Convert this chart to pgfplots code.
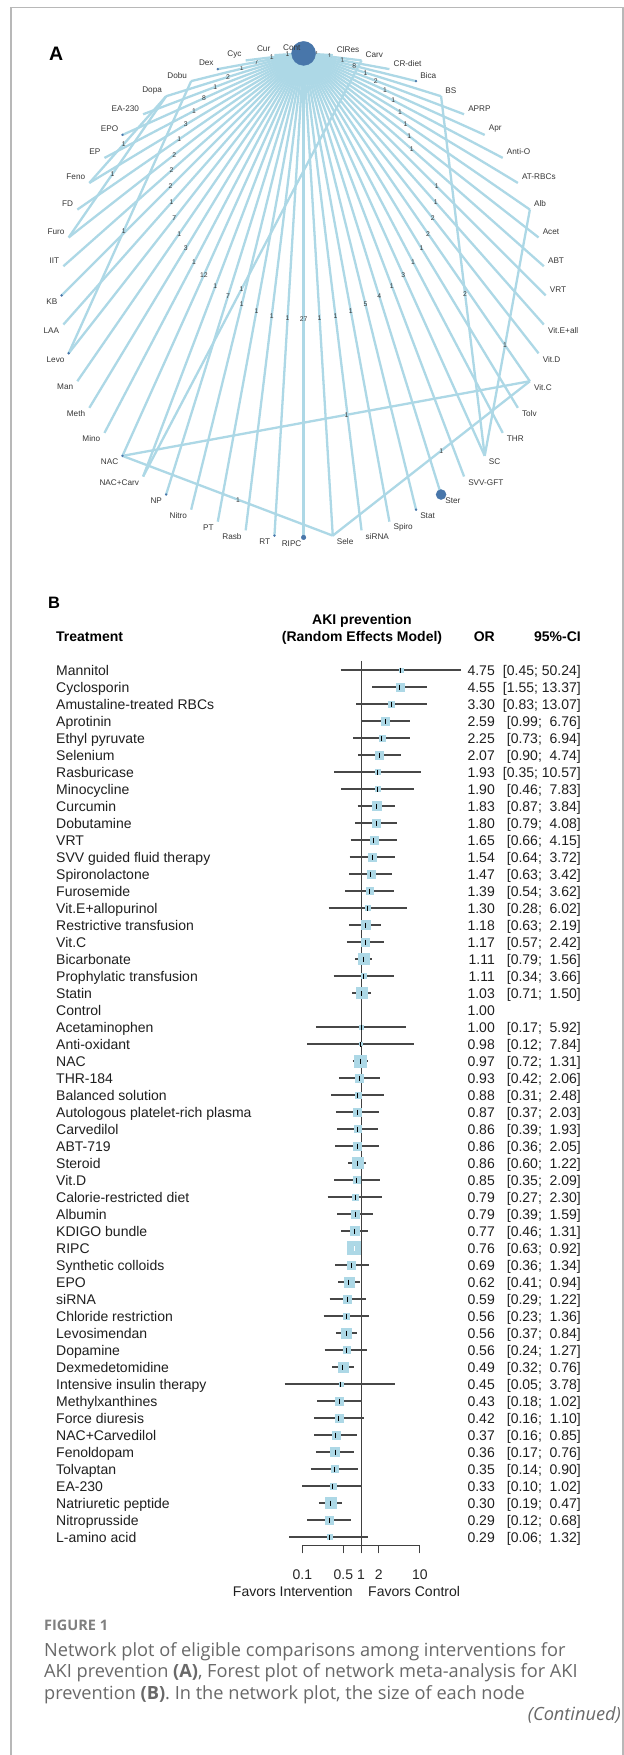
\documentclass[border=0pt]{standalone}
\usepackage{fontspec}
\setmainfont{Liberation Sans}
\newfontfamily\capfont{Open Sans}
\usepackage{pgfplots}
\usepackage{pgfplotstable}
\pgfplotsset{compat=1.18}
\definecolor{edgec}{RGB}{173,216,230}
\definecolor{nodec}{RGB}{72,118,170}
\definecolor{sqc}{RGB}{173,216,230}
\definecolor{capgray}{RGB}{105,105,105}
\definecolor{labc}{RGB}{55,55,55}
\newcommand\fs{\fontsize{14bp}{16bp}\selectfont}

\pgfplotstableread{
k or lo hi sq
1 4.75 0.45 50.24 4
2 4.55 1.55 13.37 8
3 3.30 0.83 13.07 6
4 2.59 0.99 6.76 8
5 2.25 0.73 6.94 6
6 2.07 0.90 4.74 8
7 1.93 0.35 10.57 5
8 1.90 0.46 7.83 5
9 1.83 0.87 3.84 9
10 1.80 0.79 4.08 8
11 1.65 0.66 4.15 8
12 1.54 0.64 3.72 8
13 1.47 0.63 3.42 8
14 1.39 0.54 3.62 7
15 1.30 0.28 6.02 5
16 1.18 0.63 2.19 9
17 1.17 0.57 2.42 8
18 1.11 0.79 1.56 11
19 1.11 0.34 3.66 5
20 1.03 0.71 1.50 11
22 1.00 0.17 5.92 4
23 0.98 0.12 7.84 3
24 0.97 0.72 1.31 12
25 0.93 0.42 2.06 8
26 0.88 0.31 2.48 6
27 0.87 0.37 2.03 8
28 0.86 0.39 1.93 7
29 0.86 0.36 2.05 8
30 0.86 0.60 1.22 11
31 0.85 0.35 2.09 7
32 0.79 0.27 2.30 6
33 0.79 0.39 1.59 8
34 0.77 0.46 1.31 9
35 0.76 0.63 0.92 13
36 0.69 0.36 1.34 8
37 0.62 0.41 0.94 10
38 0.59 0.29 1.22 8
39 0.56 0.23 1.36 6
40 0.56 0.37 0.84 10
41 0.56 0.24 1.27 7
42 0.49 0.32 0.76 10
43 0.45 0.05 3.78 4
44 0.43 0.18 1.02 8
45 0.42 0.16 1.10 8
46 0.37 0.16 0.85 8
47 0.36 0.17 0.76 9
48 0.35 0.14 0.90 7
49 0.33 0.10 1.02 6
50 0.30 0.19 0.47 11
51 0.29 0.12 0.68 8
52 0.29 0.06 1.32 5
}\foresttab

\pgfplotsset{
  edge/.style={data cs=polar, color=edgec, line width=2.3bp, mark=none},
  cil/.style={color=black!72, line width=1.25bp, mark=none},
}
\tikzset{elab/.style={font=\fontsize{6.8bp}{6.8bp}\selectfont, text=labc, inner sep=0pt}}
\newcommand\edge[4]{\addplot[edge] coordinates {(#1,1) (#2,1)} node[elab,pos=#4] {#3};}
\newcommand\ci[3]{\addplot[cil] coordinates {(#2,-#1) (#3,-#1)};}

\begin{document}
\begin{tikzpicture}
\useasboundingbox (0bp,0bp) rectangle (624bp,-1755bp);
\fill[white] (0bp,0bp) rectangle (624bp,-1755bp);
\draw[black!28, line width=1.5bp] (11bp,-1770bp) -- (11bp,-7.5bp) -- (623bp,-7.5bp) -- (623bp,-1770bp);

% ---------------- Panel A: network ----------------
\begin{axis}[at={(303.6bp,-295.4bp)}, anchor=center, scale only axis,
  width=605bp, height=605bp, xmin=-1.25, xmax=1.25, ymin=-1.25, ymax=1.25,
  hide axis, clip=false]
% edges to Cont
\edge{90}{83.08}{1}{0.45}
\edge{90}{76.15}{1}{0.45}
\edge{90}{69.23}{1}{0.45}
\edge{90}{62.31}{8}{0.45}
\edge{90}{55.38}{1}{0.45}
\edge{90}{48.46}{2}{0.45}
\edge{90}{41.54}{1}{0.45}
\edge{90}{34.62}{1}{0.45}
\edge{90}{27.69}{1}{0.45}
\edge{90}{20.77}{1}{0.45}
\edge{90}{13.85}{1}{0.45}
\edge{90}{6.92}{1}{0.45}
\edge{90}{0}{1}{0.55}
\edge{90}{-6.92}{1}{0.55}
\edge{90}{-13.85}{2}{0.55}
\edge{90}{-20.77}{2}{0.55}
\edge{90}{-27.69}{1}{0.55}
\edge{90}{-34.62}{1}{0.55}
\edge{90}{-41.54}{3}{0.55}
\edge{90}{-48.46}{1}{0.55}
\edge{90}{-55.38}{4}{0.55}
\edge{90}{-62.31}{5}{0.55}
\edge{90}{-69.23}{1}{0.55}
\edge{90}{-76.15}{1}{0.55}
\edge{90}{-83.08}{1}{0.55}
\edge{90}{-90}{27}{0.55}
\edge{90}{263.08}{1}{0.55}
\edge{90}{256.15}{1}{0.55}
\edge{90}{249.23}{1}{0.55}
\edge{90}{242.31}{1}{0.55}
\edge{90}{235.38}{7}{0.55}
\edge{90}{228.46}{1}{0.55}
\edge{90}{221.54}{12}{0.55}
\edge{90}{214.62}{1}{0.55}
\edge{90}{207.69}{3}{0.55}
\edge{90}{200.77}{1}{0.55}
\edge{90}{193.85}{7}{0.55}
\edge{90}{186.92}{1}{0.55}
\edge{90}{180}{2}{0.55}
\edge{90}{173.08}{2}{0.55}
\edge{90}{166.15}{2}{0.55}
\edge{90}{159.23}{1}{0.55}
\edge{90}{152.31}{3}{0.55}
\edge{90}{145.38}{1}{0.55}
\edge{90}{138.46}{8}{0.55}
\edge{90}{131.54}{1}{0.55}
\edge{90}{124.62}{2}{0.55}
\edge{90}{117.69}{1}{0.55}
\edge{90}{110.77}{7}{0.55}
\edge{90}{103.85}{1}{0.55}
\edge{90}{96.92}{1}{0.55}
% other comparisons
\edge{117.69}{193.85}{1}{0.55}
\edge{124.62}{152.31}{1}{0.55}
\edge{124.62}{166.15}{1}{0.55}
\edge{55.38}{-41.54}{2}{0.55}
\edge{20.77}{-41.54}{1}{0.55}
\edge{221.54}{-20.77}{1}{0.55}
\edge{221.54}{-83.08}{1}{0.55}
\edge{-83.08}{-20.77}{1}{0.55}
\edge{76.15}{228.46}{1}{0.55}
% nodes
\addplot[data cs=polar, only marks, mark=*, mark size=1bp, color=nodec]
  coordinates {(110.77,1) (62.31,1) (138.46,1) (180,1) (193.85,1) (221.54,1) (235.38,1) (263.08,1) (-62.31,1)};
\addplot[data cs=polar, only marks, mark=*, mark size=2.3bp, color=nodec] coordinates {(-90,1)};
\addplot[data cs=polar, only marks, mark=*, mark size=5bp, color=nodec] coordinates {(-55.38,1)};
\addplot[data cs=polar, only marks, mark=*, mark size=12bp, color=nodec] coordinates {(90,1)};
\end{axis}

% node labels (text)
\begin{scope}[shift={(303.6bp,-295.4bp)}, every node/.style={font=\fontsize{8.2bp}{8.2bp}\selectfont, text=labc, inner sep=0pt}]
\foreach \a/\l/\an/\xs/\ys in {
90/Cont/east/-3/6, 83.08/ClRes/west/4/6, 76.15/Carv/west/4/6, 69.23/CR-diet/west/4/6,
62.31/Bica/west/4/6, 55.38/BS/west/4/6, 48.46/APRP/west/4/6, 41.54/Apr/west/4/6,
34.62/Anti-O/west/4/6, 27.69/AT-RBCs/west/4/6, 20.77/Alb/west/4/6, 13.85/Acet/west/4/6,
6.92/ABT/west/4/6, 0/VRT/west/4/6, -6.92/Vit.E+all/west/4/-6, -13.85/Vit.D/west/4/-6,
-20.77/Vit.C/west/4/-6, -27.69/Tolv/west/4/-6, -34.62/THR/west/4/-6, -41.54/SC/west/4/-6,
-48.46/SVV-GFT/west/4/-6, -55.38/Ster/west/4/-6, -62.31/Stat/west/4/-6, -69.23/Spiro/west/4/-6,
-76.15/siRNA/west/4/-6, -83.08/Sele/west/4/-6, -90/RIPC/east/-2/-6,
263.08/RT/east/-4/-6, 256.15/Rasb/east/-4/-6, 249.23/PT/east/-4/-6, 242.31/Nitro/east/-4/-6,
235.38/NP/east/-4/-6, 228.46/NAC+Carv/east/-4/-6, 221.54/NAC/east/-4/-6, 214.62/Mino/east/-4/-6,
207.69/Meth/east/-4/-6, 200.77/Man/east/-4/-6, 193.85/Levo/east/-4/-6, 186.92/LAA/east/-4/-6,
180/KB/east/-4/-6, 173.08/IIT/east/-4/6, 166.15/Furo/east/-4/6, 159.23/FD/east/-4/6,
152.31/Feno/east/-4/6, 145.38/EP/east/-4/6, 138.46/EPO/east/-4/6, 131.54/EA-230/east/-4/6,
124.62/Dopa/east/-4/6, 117.69/Dobu/east/-4/6, 110.77/Dex/east/-4/6, 103.85/Cyc/east/-4/6,
96.92/Cur/east/-4/6}{
  \node[anchor=\an, xshift=\xs bp, yshift=\ys bp] at (\a:242bp) {\l};
}
\end{scope}

% ---------------- Panel B: forest ----------------
\begin{axis}[at={(302.4bp,-653bp)}, anchor=north west, scale only axis,
  width=117.4bp, height=892.7bp, xmode=log, log basis x=10,
  xmin=0.1, xmax=10, ymin=-52.51, ymax=0, clip=false,
  axis y line=none, axis x line*=bottom,
  x axis line style={-, black!75, line width=0.9bp},
  xtick={0.1,0.5,1,2,10}, xticklabels={0.1,0.5,1,2,10},
  minor xtick={}, xtick align=outside, major tick length=7.6bp,
  tick style={black!75, line width=0.9bp},
  xticklabel style={font=\fs, text=black!85, yshift=-13bp}]
\addplot[black!75, line width=0.9bp] coordinates {(1,-0.47) (1,-52.51)};
\addplot[only marks, mark=square*, scatter,
  scatter/use mapped color={draw=sqc, fill=sqc},
  visualization depends on={\thisrow{sq}/2 \as \msz},
  scatter/@pre marker code/.append style={/tikz/mark size=\msz}]
  table[x=or, y expr=-\thisrow{k}] {\foresttab};
\ci{1}{0.45}{50.24}
\ci{2}{1.55}{13.37}
\ci{3}{0.83}{13.07}
\ci{4}{0.99}{6.76}
\ci{5}{0.73}{6.94}
\ci{6}{0.90}{4.74}
\ci{7}{0.35}{10.57}
\ci{8}{0.46}{7.83}
\ci{9}{0.87}{3.84}
\ci{10}{0.79}{4.08}
\ci{11}{0.66}{4.15}
\ci{12}{0.64}{3.72}
\ci{13}{0.63}{3.42}
\ci{14}{0.54}{3.62}
\ci{15}{0.28}{6.02}
\ci{16}{0.63}{2.19}
\ci{17}{0.57}{2.42}
\ci{18}{0.79}{1.56}
\ci{19}{0.34}{3.66}
\ci{20}{0.71}{1.50}
\ci{22}{0.17}{5.92}
\ci{23}{0.12}{7.84}
\ci{24}{0.72}{1.31}
\ci{25}{0.42}{2.06}
\ci{26}{0.31}{2.48}
\ci{27}{0.37}{2.03}
\ci{28}{0.39}{1.93}
\ci{29}{0.36}{2.05}
\ci{30}{0.60}{1.22}
\ci{31}{0.35}{2.09}
\ci{32}{0.27}{2.30}
\ci{33}{0.39}{1.59}
\ci{34}{0.46}{1.31}
\addplot[color=white, line width=1.2bp] coordinates {(0.63,-35) (0.92,-35)};
\ci{36}{0.36}{1.34}
\ci{37}{0.41}{0.94}
\ci{38}{0.29}{1.22}
\ci{39}{0.23}{1.36}
\ci{40}{0.37}{0.84}
\ci{41}{0.24}{1.27}
\ci{42}{0.32}{0.76}
\ci{43}{0.05}{3.78}
\ci{44}{0.18}{1.02}
\ci{45}{0.16}{1.10}
\ci{46}{0.16}{0.85}
\ci{47}{0.17}{0.76}
\ci{48}{0.14}{0.90}
\ci{49}{0.10}{1.02}
\ci{50}{0.19}{0.47}
\ci{51}{0.12}{0.68}
\ci{52}{0.06}{1.32}
\addplot[only marks, mark=|, mark size=2.5bp, mark options={line width=1bp}, color=black]
  table[x=or, y expr=-\thisrow{k}] {\foresttab};
\addplot[only marks, mark=|, mark size=2.5bp, mark options={line width=1bp}, color=white]
  coordinates {(0.76,-35)};
\end{axis}

% ---------------- Text ----------------
\begin{scope}[x=1bp, y=-1bp]
\node[anchor=base west, inner sep=0pt, font=\bfseries\fontsize{19.5bp}{20bp}\selectfont] at (49,60) {A};
\node[anchor=base west, inner sep=0pt, font=\bfseries\fontsize{16.5bp}{17bp}\selectfont] at (48,608) {B};
\begin{scope}[every node/.style={inner sep=0pt, font=\fs\bfseries}]
\node[anchor=base] at (362,624) {AKI prevention};
\node[anchor=base] at (362,641) {(Random Effects Model)};
\node[anchor=base west] at (56,641) {Treatment};
\node[anchor=base east] at (495,641) {OR};
\node[anchor=base east] at (581,641) {95\%-CI};
\end{scope}
\begin{scope}[every node/.style={inner sep=0pt, font=\fs, text=black!88}]
\foreach \k/\nm/\orv/\lo/\hi in {
1/Mannitol/4.75/0.45/50.24,
2/Cyclosporin/4.55/1.55/13.37,
3/Amustaline-treated RBCs/3.30/0.83/13.07,
4/Aprotinin/2.59/0.99/6.76,
5/Ethyl pyruvate/2.25/0.73/6.94,
6/Selenium/2.07/0.90/4.74,
7/Rasburicase/1.93/0.35/10.57,
8/Minocycline/1.90/0.46/7.83,
9/Curcumin/1.83/0.87/3.84,
10/Dobutamine/1.80/0.79/4.08,
11/VRT/1.65/0.66/4.15,
12/SVV guided fluid therapy/1.54/0.64/3.72,
13/Spironolactone/1.47/0.63/3.42,
14/Furosemide/1.39/0.54/3.62,
15/Vit.E+allopurinol/1.30/0.28/6.02,
16/Restrictive transfusion/1.18/0.63/2.19,
17/Vit.C/1.17/0.57/2.42,
18/Bicarbonate/1.11/0.79/1.56,
19/Prophylatic transfusion/1.11/0.34/3.66,
20/Statin/1.03/0.71/1.50,
22/Acetaminophen/1.00/0.17/5.92,
23/Anti-oxidant/0.98/0.12/7.84,
24/NAC/0.97/0.72/1.31,
25/THR-184/0.93/0.42/2.06,
26/Balanced solution/0.88/0.31/2.48,
27/Autologous platelet-rich plasma/0.87/0.37/2.03,
28/Carvedilol/0.86/0.39/1.93,
29/ABT-719/0.86/0.36/2.05,
30/Steroid/0.86/0.60/1.22,
31/Vit.D/0.85/0.35/2.09,
32/Calorie-restricted diet/0.79/0.27/2.30,
33/Albumin/0.79/0.39/1.59,
34/KDIGO bundle/0.77/0.46/1.31,
35/RIPC/0.76/0.63/0.92,
36/Synthetic colloids/0.69/0.36/1.34,
37/EPO/0.62/0.41/0.94,
38/siRNA/0.59/0.29/1.22,
39/Chloride restriction/0.56/0.23/1.36,
40/Levosimendan/0.56/0.37/0.84,
41/Dopamine/0.56/0.24/1.27,
42/Dexmedetomidine/0.49/0.32/0.76,
43/Intensive insulin therapy/0.45/0.05/3.78,
44/Methylxanthines/0.43/0.18/1.02,
45/Force diuresis/0.42/0.16/1.10,
46/NAC+Carvedilol/0.37/0.16/0.85,
47/Fenoldopam/0.36/0.17/0.76,
48/Tolvaptan/0.35/0.14/0.90,
49/EA-230/0.33/0.10/1.02,
50/Natriuretic peptide/0.30/0.19/0.47,
51/Nitroprusside/0.29/0.12/0.68,
52/L-amino acid/0.29/0.06/1.32}{
  \pgfmathsetmacro\yy{670+17*(\k-1)+5}
  \pgfmathsetmacro\cx{\hi<10 ? 542.1 : 538.2}
  \node[anchor=base west] at (56,\yy) {\nm};
  \node[anchor=base east] at (495,\yy) {\orv};
  \node[anchor=base east] at (\cx,\yy) {[\lo;};
  \node[anchor=base east] at (581,\yy) {\hi]};
}
\node[anchor=base west] at (56,1015) {Control};
\node[anchor=base east] at (495,1015) {1.00};
\node[anchor=base east] at (353,1596) {Favors Intervention};
\node[anchor=base west] at (368,1596) {Favors Control};
\end{scope}
% caption
\begin{scope}[every node/.style={inner sep=0pt, text=capgray}]
\node[anchor=base west, font=\capfont\bfseries\fontsize{14.5bp}{15bp}\selectfont, text=black!50] at (44,1630.5) {FIGURE 1};
\node[anchor=base west, font=\capfont\fontsize{18.2bp}{20bp}\selectfont] at (44,1656) {Network plot of eligible comparisons among interventions for};
\node[anchor=base west, font=\capfont\fontsize{18.2bp}{20bp}\selectfont] at (44,1677.5) {AKI prevention \textbf{(A)}, Forest plot of network meta-analysis for AKI};
\node[anchor=base west, font=\capfont\fontsize{18.2bp}{20bp}\selectfont] at (44,1699) {prevention \textbf{(B)}. In the network plot, the size of each node};
\node[anchor=base east, font=\capfont\itshape\fontsize{18.2bp}{20bp}\selectfont] at (621,1720.5) {(Continued)};
\end{scope}
\end{scope}
\end{tikzpicture}
\end{document}
